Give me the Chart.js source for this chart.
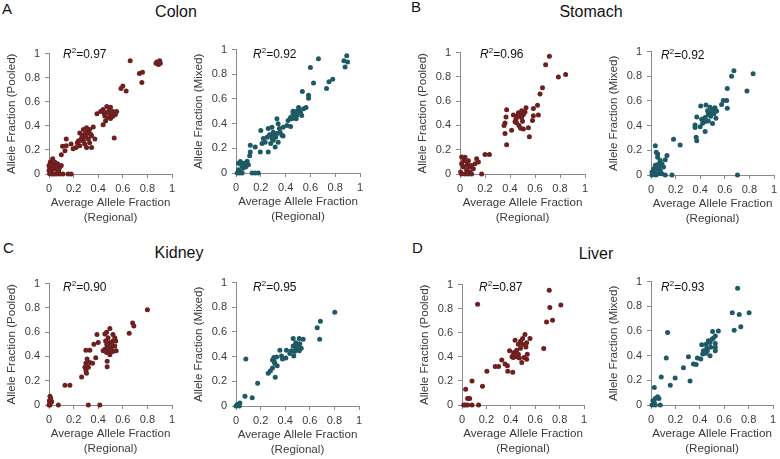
<!DOCTYPE html>
<html><head><meta charset="utf-8">
<script src="https://cdn.jsdelivr.net/npm/chart.js@4"></script>
<style>
html,body{margin:0;padding:0;background:#fff;}
body{width:780px;height:459px;position:relative;overflow:hidden;font-family:"Liberation Sans",Arial,sans-serif;}
canvas{position:absolute;}
.t{position:absolute;color:#111;font-size:16px;line-height:18px;transform:translateX(-50%);white-space:nowrap;}
.l{position:absolute;color:#111;font-size:15px;line-height:18px;}
.r{position:absolute;color:#111;font-size:12px;line-height:14px;white-space:nowrap;}
.r sup{font-size:8px;vertical-align:top;line-height:8px;}
</style></head><body>
<div class="l" style="left:2px;top:0px">A</div>
<div class="l" style="left:411px;top:-2px">B</div>
<div class="l" style="left:3px;top:239px">C</div>
<div class="l" style="left:412px;top:239px">D</div>
<div class="t" style="left:176px;top:3px">Colon</div>
<div class="t" style="left:591px;top:3px">Stomach</div>
<div class="t" style="left:179px;top:244px">Kidney</div>
<div class="t" style="left:596px;top:245px">Liver</div>
<canvas id="c0"></canvas><canvas id="c1"></canvas><canvas id="c2"></canvas><canvas id="c3"></canvas>
<canvas id="c4"></canvas><canvas id="c5"></canvas><canvas id="c6"></canvas><canvas id="c7"></canvas>
<div class="r" style="left:63px;top:47px"><i>R</i><sup>2</sup>=0.97</div>
<div class="r" style="left:253px;top:47px"><i>R</i><sup>2</sup>=0.92</div>
<div class="r" style="left:480px;top:47px"><i>R</i><sup>2</sup>=0.96</div>
<div class="r" style="left:661px;top:48px"><i>R</i><sup>2</sup>=0.92</div>
<div class="r" style="left:63px;top:280px"><i>R</i><sup>2</sup>=0.90</div>
<div class="r" style="left:253px;top:280px"><i>R</i><sup>2</sup>=0.95</div>
<div class="r" style="left:479px;top:280px"><i>R</i><sup>2</sup>=0.87</div>
<div class="r" style="left:661px;top:280px"><i>R</i><sup>2</sup>=0.93</div>
<script>
const tickValues = [0, 0.2, 0.4, 0.6, 0.8, 1];
const tickLabels = ["0", "0.2", "0.4", "0.6", "0.8", "1"];
const xTitle = ["Average Allele Fraction", "(Regional)"];
const yTitlePooled = "Allele Fraction (Pooled)";
const yTitleMixed = "Allele Fraction (Mixed)";

const colonPooled = [
[0.66,0.94],[0.877,0.93],[0.90,0.94],[0.89,0.91],[0.905,0.92],[0.87,0.92],
[0.735,0.835],[0.76,0.845],[0.755,0.76],[0.60,0.73],[0.585,0.71],[0.627,0.69],
[0.42,0.52],[0.44,0.535],[0.47,0.56],[0.50,0.555],[0.52,0.52],[0.54,0.495],[0.55,0.52],[0.455,0.48],[0.48,0.467],[0.51,0.48],[0.46,0.44],[0.50,0.495],[0.47,0.51],[0.52,0.48],[0.39,0.50],[0.44,0.41],[0.53,0.30],[0.49,0.53],[0.45,0.5],[0.5,0.46],
[0.25,0.34],[0.28,0.37],[0.305,0.385],[0.33,0.37],[0.36,0.39],[0.32,0.34],[0.29,0.33],[0.265,0.30],[0.24,0.276],[0.28,0.276],[0.32,0.29],[0.346,0.317],[0.373,0.29],[0.33,0.26],[0.29,0.25],[0.22,0.22],[0.25,0.235],[0.196,0.21],[0.305,0.22],[0.346,0.22],[0.18,0.25],[0.14,0.235],[0.13,0.194],[0.10,0.16],[0.14,0.29],[0.11,0.23],[0.3,0.31],[0.31,0.35],[0.27,0.32],[0.34,0.33],[0.23,0.26],[0.26,0.28],
[0.005,0.057],[0.02,0.03],[0.03,0.085],[0.046,0.044],[0.06,0.07],[0.07,0.085],[0.087,0.057],[0.03,0.126],[0.005,0.003],[0.02,0],[0.04,0],[0.06,0],[0.087,0],[0,0.03],[0,0.07],[0.046,0.1],[0.1,0.07],[0.155,0],[0.18,0],[0.114,0],[0.07,0.016],[0.02,0.07],[0.01,0.1],[0.04,0.06],[0.08,0.03]
];
const colonMixed = [
[0.893,0.95],[0.87,0.91],[0.90,0.90],[0.88,0.86],[0.665,0.925],[0.60,0.855],[0.625,0.73],[0.75,0.74],[0.78,0.76],[0.73,0.685],
[0.535,0.66],[0.585,0.63],[0.585,0.605],[0.565,0.53],
[0.49,0.50],[0.505,0.53],[0.46,0.48],[0.44,0.45],[0.42,0.425],[0.52,0.49],[0.48,0.465],[0.45,0.44],[0.49,0.465],[0.53,0.465],[0.545,0.52],[0.41,0.385],[0.44,0.377],[0.46,0.50],[0.485,0.44],[0.47,0.47],[0.51,0.51],
[0.33,0.44],[0.34,0.40],[0.29,0.37],[0.26,0.36],[0.30,0.33],[0.33,0.32],[0.28,0.305],[0.25,0.29],[0.22,0.28],[0.32,0.29],[0.355,0.33],[0.38,0.37],[0.37,0.305],[0.21,0.24],[0.235,0.25],[0.28,0.24],[0.30,0.265],[0.34,0.25],[0.26,0.17],[0.196,0.17],[0.2,0.345],[0.155,0.21],[0.115,0.225],[0.316,0.21],[0.38,0.30],[0.31,0.3],[0.27,0.31],[0.29,0.28],[0.35,0.36],
[0.02,0.08],[0.035,0.093],[0.06,0.08],[0.09,0.095],[0.05,0.053],[0.075,0.066],[0.10,0.066],[0.02,0.027],[0.035,0.013],[0.01,0],[0.03,0],[0.05,0],[0.13,0],[0.155,0],[0.18,0],[0.06,0.04],[0.115,0.17],[0.11,0.14],[0.04,0.07],[0.08,0.05]
];
const stomachPooled = [
[0.715,0.97],[0.685,0.90],[0.787,0.80],[0.845,0.82],[0.66,0.71],[0.64,0.66],
[0.587,0.54],[0.62,0.566],[0.627,0.485],[0.587,0.48],[0.58,0.44],[0.547,0.38],[0.555,0.306],[0.528,0.545],[0.52,0.51],
[0.373,0.53],[0.368,0.47],[0.36,0.42],[0.352,0.40],[0.36,0.333],[0.373,0.24],[0.413,0.36],[0.427,0.485],[0.448,0.45],[0.453,0.42],[0.467,0.475],[0.48,0.485],[0.493,0.463],[0.507,0.49],[0.467,0.505],[0.44,0.43],[0.5,0.435],[0.485,0.377],[0.507,0.37],[0.472,0.40],[0.453,0.475],[0.493,0.52],
[0.013,0.14],[0.04,0.138],[0.067,0.11],[0.093,0.07],[0.12,0.084],[0.133,0.125],[0.147,0.098],[0.2,0.16],[0.235,0.16],[0.013,0.084],[0.027,0.057],[0.053,0.03],[0.08,0.016],[0.005,0.016],[0.013,0],[0.04,0],[0.067,0],[0.093,0],[0.173,0],[0.053,0.07],[0.107,0.043],[0.08,0.057],[0.03,0.11],[0.06,0.09]
];
const stomachMixed = [
[0.674,0.845],[0.655,0.80],[0.83,0.82],[0.78,0.68],[0.62,0.70],[0.615,0.604],[0.588,0.604],[0.62,0.54],[0.574,0.572],
[0.404,0.56],[0.447,0.567],[0.48,0.55],[0.50,0.532],[0.52,0.545],[0.493,0.505],[0.466,0.49],[0.44,0.465],[0.412,0.452],[0.372,0.47],[0.358,0.406],[0.358,0.385],[0.44,0.433],[0.466,0.438],[0.50,0.417],[0.528,0.46],[0.44,0.353],[0.367,0.305],[0.372,0.278],[0.40,0.39],[0.485,0.477],[0.512,0.497],[0.534,0.519],[0.46,0.52],[0.42,0.42],
[0.183,0.289],[0.237,0.243],[0.035,0.238],[0.043,0.185],[0.054,0.17],[0.13,0.158],[0.116,0.123],[0.089,0.091],[0.062,0.091],[0.035,0.078],[0.022,0.05],[0.049,0.05],[0.075,0.037],[0.102,0.064],[0.008,0.024],[0.035,0.016],[0.062,0.01],[0.089,0.01],[0.116,0],[0.008,0],[0.17,0],[0.703,0],[0.075,0.118],[0.054,0.144],[0.04,0.0],[0.07,0.07]
];
const kidneyPooled = [
[0.80,0.785],[0.68,0.675],[0.69,0.65],[0.652,0.59],
[0.454,0.584],[0.468,0.60],[0.495,0.63],[0.52,0.58],[0.535,0.554],[0.48,0.554],[0.46,0.527],[0.495,0.514],[0.52,0.527],[0.543,0.527],[0.473,0.486],[0.508,0.473],[0.535,0.486],[0.454,0.46],[0.489,0.446],[0.52,0.44],[0.546,0.446],[0.468,0.432],[0.495,0.414],[0.473,0.36],[0.473,0.316],[0.44,0.446],[0.508,0.5],[0.48,0.47],[0.5,0.46],[0.47,0.5],
[0.39,0.58],[0.40,0.514],[0.365,0.5],[0.30,0.45],[0.332,0.45],[0.31,0.378],[0.38,0.39],[0.332,0.35],[0.354,0.343],[0.30,0.343],[0.32,0.31],[0.292,0.31],[0.305,0.262],[0.265,0.23],[0.30,0.284],
[0.13,0.162],[0.17,0.162],
[0.008,0.073],[0.014,0.054],[0.003,0.035],[0.022,0.027],[0.008,0.014],[0,0],[0.076,0],[0.32,0],[0.413,0],[0.008,0],[0.014,0.04]
];
const kidneyMixed = [
[0.803,0.76],[0.686,0.687],[0.66,0.634],[0.68,0.54],
[0.465,0.548],[0.514,0.548],[0.546,0.54],[0.486,0.513],[0.519,0.505],[0.465,0.487],[0.497,0.479],[0.53,0.468],[0.45,0.447],[0.476,0.441],[0.47,0.406],[0.438,0.425],[0.41,0.452],[0.486,0.46],[0.514,0.447],[0.5,0.5],[0.48,0.49],
[0.357,0.452],[0.308,0.393],[0.33,0.398],[0.37,0.406],[0.297,0.372],[0.405,0.388],[0.378,0.38],[0.316,0.345],[0.335,0.326],[0.297,0.307],[0.28,0.286],[0.262,0.265],[0.319,0.233],[0.08,0.38],[0.176,0.184],[0.073,0.08],[0.132,0.067],[0.31,0.36],
[0,0],[0.019,0.005],[0.032,0.024],[0.01,0.013],[0.027,0]
];
const liverPooled = [
[0.715,0.954],[0.128,0.837],[0.81,0.83],[0.72,0.81],[0.742,0.703],[0.693,0.69],[0.67,0.47],
[0.516,0.586],[0.497,0.553],[0.557,0.553],[0.48,0.53],[0.53,0.518],[0.435,0.537],[0.462,0.504],[0.497,0.504],[0.524,0.482],[0.48,0.471],[0.535,0.422],[0.53,0.38],[0.49,0.354],[0.448,0.455],[0.427,0.436],[0.462,0.422],[0.443,0.40],[0.42,0.417],[0.42,0.395],[0.41,0.40],[0.39,0.45],[0.47,0.39],[0.508,0.395],
[0.372,0.327],[0.416,0.272],[0.353,0.34],[0.326,0.373],[0.3,0.32],[0.272,0.32],[0.375,0.28],[0.204,0.28],
[0.082,0.2],[0.168,0.155],[0.03,0.13],[0.046,0.054],[0.063,0.054],[0.014,0],[0.027,0],[0.046,0],[0.082,0],[0.136,0]
];
const liverMixed = [
[0.71,0.947],[0.666,0.747],[0.723,0.733],[0.804,0.747],[0.736,0.635],[0.682,0.605],[0.136,0.587],[0.125,0.381],[0.084,0.227],[0.198,0.219],[0.158,0.16],[0.027,0.141],[0.32,0.195],[0.307,0.392],[0.266,0.301],
[0.505,0.595],[0.552,0.60],[0.527,0.56],[0.5,0.533],[0.47,0.52],[0.416,0.488],[0.451,0.493],[0.484,0.507],[0.527,0.499],[0.489,0.467],[0.457,0.461],[0.43,0.44],[0.462,0.44],[0.527,0.44],[0.527,0.467],[0.424,0.413],[0.45,0.419],[0.38,0.381],[0.408,0.373],[0.348,0.333],[0.37,0.328],[0.484,0.40],[0.51,0.54],
[0.016,0.035],[0.035,0.053],[0.054,0.067],[0.065,0.053],[0.027,0.019],[0.008,0],[0.035,0],[0.076,0]
];

const pooledColor = '#6e2020';
const mixedColor = '#1e5a65';

// plot-area boxes: [axisLeft, axisTop, axisRight, axisBottom]
const panels = [
  {data: colonPooled,   color: pooledColor, yTitle: yTitlePooled, box: [49, 52, 172, 174]},
  {data: colonMixed,    color: mixedColor,  yTitle: yTitleMixed,  box: [236, 48, 360, 173]},
  {data: stomachPooled, color: pooledColor, yTitle: yTitlePooled, box: [460, 51, 585, 174]},
  {data: stomachMixed,  color: mixedColor,  yTitle: yTitleMixed,  box: [651, 50, 774, 175]},
  {data: kidneyPooled,  color: pooledColor, yTitle: yTitlePooled, box: [49, 282, 172, 405]},
  {data: kidneyMixed,   color: mixedColor,  yTitle: yTitleMixed,  box: [236, 281, 359, 406]},
  {data: liverPooled,   color: pooledColor, yTitle: yTitlePooled, box: [462, 283, 584, 405]},
  {data: liverMixed,    color: mixedColor,  yTitle: yTitleMixed,  box: [651, 280, 773, 405]}
];

const YW = 45, XH = 51, PT = 10, PR = 8;
const textColor = '#3a3a3a';
const axisColor = '#8a8a8a';
const fam = '"Liberation Sans", Arial, sans-serif';
const fmt = v => { const k = tickValues.findIndex(t => Math.abs(t - v) < 1e-9); return k >= 0 ? tickLabels[k] : ''; };

panels.forEach((p, i) => {
  const [l, t, r, b] = p.box;
  const cv = document.getElementById('c' + i);
  const w = YW + (r - l) + PR, h = PT + (b - t) + XH;
  cv.width = w; cv.height = h;
  cv.style.left = (l - YW) + 'px';
  cv.style.top = (t - PT) + 'px';
  const axisCommon = {
    type: 'linear', min: 0, max: 1,
    border: {display: true, color: axisColor, width: 1},
    grid: {display: true, drawOnChartArea: false, drawTicks: true, tickLength: 4, color: axisColor},
    afterBuildTicks: s => { s.ticks = tickValues.map(v => ({value: v})); }
  };
  new Chart(cv, {
    type: 'scatter',
    data: {datasets: [{
      data: p.data.map(d => ({x: d[0], y: d[1]})),
      backgroundColor: p.color, borderColor: p.color, borderWidth: 0,
      pointRadius: 2.5, pointHoverRadius: 2.5, clip: false
    }]},
    options: {
      responsive: false, animation: false, devicePixelRatio: 1,
      layout: {padding: {left: 0, top: PT, right: PR, bottom: 0}},
      plugins: {legend: {display: false}, tooltip: {enabled: false}},
      scales: {
        x: Object.assign({}, axisCommon, {
          position: 'bottom',
          ticks: {color: textColor, font: {family: fam, size: 11}, padding: 4, maxRotation: 0, callback: fmt},
          title: {display: true, text: xTitle, color: textColor, font: {family: fam, size: 11.6, lineHeight: 1.25}, padding: {top: 0, bottom: 0}},
          afterFit: s => { s.height = XH; }
        }),
        y: Object.assign({}, axisCommon, {
          position: 'left',
          ticks: {color: textColor, font: {family: fam, size: 11}, padding: 5, callback: fmt},
          title: {display: true, text: p.yTitle, color: textColor, font: {family: fam, size: 11.6, lineHeight: 1.25}, padding: {top: 1, bottom: 0}},
          afterFit: s => { s.width = YW; }
        })
      }
    }
  });
});
</script>
</body></html>
